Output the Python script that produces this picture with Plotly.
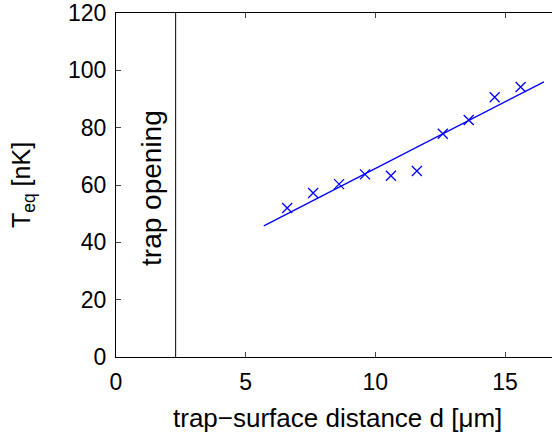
import plotly.graph_objects as go

# data
d_um = [6.6, 7.6, 8.6, 9.6, 10.6, 11.6, 12.6, 13.6, 14.6, 15.6]
T_eq = [52.0, 57.2, 60.3, 63.7, 63.2, 64.9, 77.9, 82.7, 90.6, 94.2]
fit_x = [5.7, 16.5]
fit_y = [45.7, 96.0]
opening_x = 2.3
y_ticks = [0, 20, 40, 60, 80, 100, 120]
x_ticks = [0, 5, 10, 15]

FONT = "Liberation Sans, Arial, Helvetica, sans-serif"
BLUE = "#0000ff"

fig = go.Figure()
fig.add_trace(go.Scatter(x=fit_x, y=fit_y, mode="lines",
                         line=dict(color=BLUE, width=1.4), showlegend=False))
fig.add_trace(go.Scatter(x=d_um, y=T_eq, mode="markers",
                         marker=dict(symbol="x-thin-open", size=10, color=BLUE,
                                     line=dict(color=BLUE, width=1.3)),
                         showlegend=False))
fig.add_trace(go.Scatter(x=[opening_x, opening_x], y=[0, 120], mode="lines",
                         line=dict(color="black", width=1), showlegend=False))

fig.add_annotation(x=1.39, y=59, text="trap opening", textangle=-90,
                   showarrow=False, font=dict(family=FONT, size=28, color="black"))

# x-axis title placed as paper annotation to control its vertical position
fig.add_annotation(x=0.508, y=-0.178, xref="paper", yref="paper",
                   text="trap\u2212surface distance d [\u03bcm]",
                   xanchor="center", yanchor="middle", showarrow=False,
                   font=dict(family=FONT, size=26, color="black"))

fig.update_layout(
    width=552, height=435,
    margin=dict(l=116, r=0, t=10, b=78),
    paper_bgcolor="white", plot_bgcolor="white",
    font=dict(family=FONT, size=24, color="black"),
)
fig.update_xaxes(range=[0, 16.81], tickvals=x_ticks, ticks="inside", ticklen=5,
                 showline=True, linecolor="black", linewidth=1, mirror="ticks",
                 showgrid=False, zeroline=False,
                 tickfont=dict(family=FONT, size=23), ticklabelstandoff=4,
                 ticklabeloverflow="allow")
fig.update_yaxes(range=[0, 120], tickvals=y_ticks, ticks="inside", ticklen=5,
                 showline=True, linecolor="black", linewidth=1,
                 showgrid=False, zeroline=False,
                 title=dict(text="T<sub>eq</sub> [nK]", standoff=30,
                            font=dict(family=FONT, size=25)),
                 tickfont=dict(family=FONT, size=23), ticklabelstandoff=4,
                 ticklabeloverflow="allow")

fig.write_html("out.html")
